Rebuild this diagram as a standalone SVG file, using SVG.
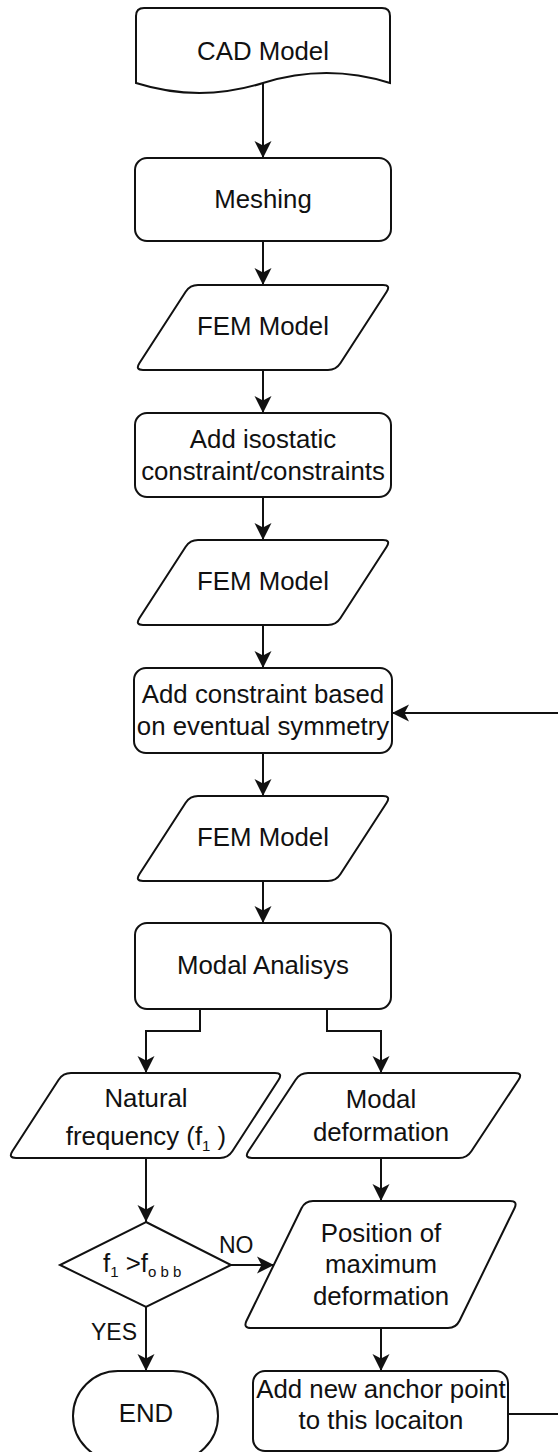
<svg xmlns="http://www.w3.org/2000/svg" width="558" height="1452" viewBox="0 0 558 1452">
  <defs>
    <style>
      .shape { fill: #ffffff; stroke: #111111; stroke-width: 2; }
      .conn { fill: none; stroke: #111111; stroke-width: 2; marker-end: url(#arrow); }
      .t { font-family: "Liberation Sans", Arial, Helvetica, sans-serif; font-size: 25.8px; fill: #111111; text-anchor: middle; }
      .lbl { font-family: "Liberation Sans", Arial, Helvetica, sans-serif; font-size: 23px; fill: #111111; }
      .sub { font-size: 15px; }
    </style>
    <marker id="arrow" markerUnits="userSpaceOnUse" viewBox="-18 -10 20 20" markerWidth="20" markerHeight="20" refX="0" refY="0" orient="auto" overflow="visible">
      <path d="M0,0 L-17,-8.5 L-12.5,0 L-17,8.5 Z" fill="#111111"/>
    </marker>
  </defs>

  <rect width="558" height="1452" fill="#ffffff"/>

  <!-- connectors -->
  <g id="connectors">
    <path class="conn" d="M263,83 V158"/>
    <path class="conn" d="M263,241 V285"/>
    <path class="conn" d="M263,370 V413"/>
    <path class="conn" d="M263,497 V540"/>
    <path class="conn" d="M263,625 V668"/>
    <path class="conn" d="M263,753 V796"/>
    <path class="conn" d="M263,881 V923"/>
    <path class="conn" d="M200,1009 V1031 H146 V1073"/>
    <path class="conn" d="M327,1009 V1031 H381 V1073"/>
    <path class="conn" d="M146,1158 V1222"/>
    <path class="conn" d="M146,1307 V1371"/>
    <path class="conn" d="M231,1265 H274"/>
    <path class="conn" d="M381,1158 V1201"/>
    <path class="conn" d="M381,1328 V1371"/>
    <!-- loop back from the new anchor point to the symmetry constraint step -->
    <path class="conn" d="M508,1414 H585 V713 H392"/>
    <text class="lbl" x="219" y="1253">NO</text>
    <text class="lbl" x="137" y="1340" text-anchor="end">YES</text>
  </g>

  <g id="cad-model">
    <path class="shape" d="M136,83 V16 Q136,8 144,8 H382 Q390,8 390,16 V83 Q326.5,63 263,83 Q199.5,103 136,83 Z"/>
    <text class="t" x="263" y="60">CAD Model</text>
  </g>

  <g id="meshing">
    <rect class="shape" x="135" y="158" width="256" height="83" rx="12" ry="12"/>
    <text class="t" x="263" y="208">Meshing</text>
  </g>

  <g id="fem-model-1">
    <path class="shape" d="M198,285 H383 Q391,285 386.65,291.72 L340.35,363.28 Q336,370 328,370 H143 Q135,370 139.35,363.28 L185.65,291.72 Q190,285 198,285 Z"/>
    <text class="t" x="263" y="335">FEM Model</text>
  </g>

  <g id="isostatic-constraints">
    <rect class="shape" x="135" y="413" width="256" height="84" rx="12" ry="12"/>
    <text class="t" x="263" y="448">Add isostatic</text>
    <text class="t" x="263" y="480">constraint/constraints</text>
  </g>

  <g id="fem-model-2">
    <path class="shape" d="M198,540 H383 Q391,540 386.65,546.72 L340.35,618.28 Q336,625 328,625 H143 Q135,625 139.35,618.28 L185.65,546.72 Q190,540 198,540 Z"/>
    <text class="t" x="263" y="590">FEM Model</text>
  </g>

  <g id="symmetry-constraint">
    <rect class="shape" x="134" y="668" width="258" height="85" rx="12" ry="12"/>
    <text class="t" x="263" y="703">Add constraint based</text>
    <text class="t" x="263" y="735">on eventual symmetry</text>
  </g>

  <g id="fem-model-3">
    <path class="shape" d="M198,796 H383 Q391,796 386.65,802.72 L340.35,874.28 Q336,881 328,881 H143 Q135,881 139.35,874.28 L185.65,802.72 Q190,796 198,796 Z"/>
    <text class="t" x="263" y="846">FEM Model</text>
  </g>

  <g id="modal-analysis">
    <rect class="shape" x="135" y="923" width="256" height="86" rx="12" ry="12"/>
    <text class="t" x="263" y="974">Modal Analisys</text>
  </g>

  <g id="natural-frequency">
    <path class="shape" d="M71,1073 H275 Q283,1073 278.65,1079.72 L232.35,1151.28 Q228,1158 220,1158 H16 Q8,1158 12.35,1151.28 L58.65,1079.72 Q63,1073 71,1073 Z"/>
    <text class="t" x="146" y="1107">Natural</text>
    <text class="t" x="146" y="1145">frequency (f<tspan class="sub" dy="6">1</tspan><tspan dy="-6"> )</tspan></text>
  </g>

  <g id="modal-deformation">
    <path class="shape" d="M308,1073 H515 Q523,1073 518.65,1079.72 L471.35,1151.28 Q467,1158 459,1158 H252 Q244,1158 248.35,1151.28 L295.65,1079.72 Q300,1073 308,1073 Z"/>
    <text class="t" x="381" y="1108">Modal</text>
    <text class="t" x="381" y="1141">deformation</text>
  </g>

  <g id="frequency-check">
    <path class="shape" d="M146,1222 L231,1265 L146,1307 L60,1265 Z"/>
    <text class="t" x="103" y="1272" style="text-anchor:start">f<tspan class="sub" dy="5">1</tspan><tspan dy="-5"> &gt;f</tspan><tspan class="sub" dy="5">o b b</tspan></text>
  </g>

  <g id="max-deformation-position">
    <path class="shape" d="M313,1201 H510 Q518,1201 514.49,1208.19 L459.51,1320.81 Q456,1328 448,1328 H251 Q243,1328 246.51,1320.81 L301.49,1208.19 Q305,1201 313,1201 Z"/>
    <text class="t" x="381" y="1242">Position of</text>
    <text class="t" x="381" y="1273">maximum</text>
    <text class="t" x="381" y="1305">deformation</text>
  </g>

  <g id="end">
    <rect class="shape" x="73" y="1371" width="145" height="90" rx="45" ry="45"/>
    <text class="t" x="146" y="1422">END</text>
  </g>

  <g id="new-anchor-point">
    <rect class="shape" x="253" y="1371" width="255" height="80" rx="12" ry="12"/>
    <text class="t" x="381" y="1398">Add new anchor point</text>
    <text class="t" x="381" y="1429">to this locaiton</text>
  </g>
</svg>
